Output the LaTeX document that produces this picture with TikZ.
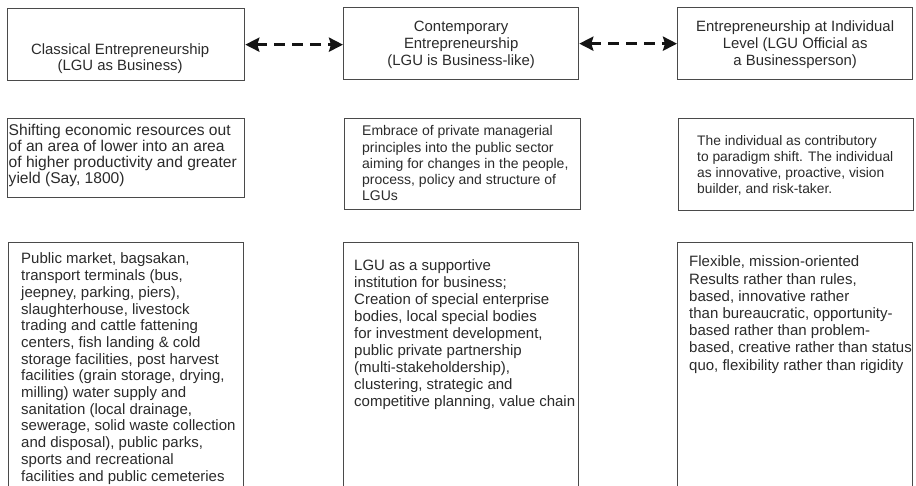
\documentclass[tikz,border=0pt]{standalone}
\usepackage{fontspec}
\setmainfont{Liberation Sans}
\usetikzlibrary{arrows.meta}
\definecolor{txtgray}{HTML}{2B2B2B}
\definecolor{edgegray}{HTML}{4A4A4A}
\newcommand\mlines[1]{\vtop{\lineskiplimit=-\maxdimen\halign{##\hfil\cr#1\crcr}}}
\newcommand\clines[1]{\vtop{\lineskiplimit=-\maxdimen\halign{\hfil##\hfil\cr#1\crcr}}}
\begin{document}
\begin{tikzpicture}[x=1pt,y=-1pt,
  boxnode/.style={draw=edgegray, line width=1.3pt, inner sep=0pt, anchor=north west},
  headtext/.style={anchor=base, inner sep=0pt, text=txtgray},
  bodytext/.style={anchor=base west, inner sep=0pt, text=txtgray},
  dasharrow/.style={draw=black!92, line width=3pt, dash pattern=on 11pt off 7pt,
    {Stealth[length=14pt,width=14pt,inset=2pt]}-{Stealth[length=14pt,width=14pt,inset=2pt]}}
]
\useasboundingbox (0,0) rectangle (916,486);
\clip (0,0) rectangle (916,486);
\fill[white] (0,0) rectangle (916,486);

% top row
\node[boxnode, minimum width=237pt, minimum height=72pt] (h1) at (7,8) {};
\node[headtext, font=\fontsize{14.9}{16}\selectfont] (h1t) at ([shift={(-6,47)}]h1.north)
  {\clines{Classical Entrepreneurship\cr(LGU as Business)}};
\node[boxnode, minimum width=235pt, minimum height=72pt] (h2) at (343,7) {};
\node[headtext, font=\fontsize{14.9}{16.8}\selectfont] (h2t) at ([shift={(0,25)}]h2.north)
  {\clines{Contemporary\cr Entrepreneurship\cr(LGU is Business-like)}};
\node[boxnode, minimum width=235pt, minimum height=72pt] (h3) at (677,7) {};
\node[headtext, font=\fontsize{14.9}{16.8}\selectfont] (h3t) at ([shift={(0,25)}]h3.north)
  {\clines{Entrepreneurship at Individual\cr Level (LGU Official as\cr a Businessperson)}};

\draw[dasharrow] (h1.east) -- (h1.east -| h2.west);
\draw[dasharrow] (h2.east) -- (h2.east -| h3.west);

% middle row
\node[boxnode, minimum width=237pt, minimum height=79pt] (m1) at (7,118) {};
\node[bodytext, font=\fontsize{15.6}{16}\selectfont] (m1t) at ([shift={(1.5,18)}]m1.north west)
  {\mlines{Shifting economic resources out\cr
  of an area of lower into an area\cr
  of higher productivity and greater\cr
  yield (Say, 1800)}};

\node[boxnode, minimum width=236pt, minimum height=91pt] (m2) at (344,118) {};
\node[bodytext, font=\fontsize{14}{16.1}\selectfont] (m2t) at ([shift={(18,18)}]m2.north west)
  {\mlines{Embrace of private managerial\cr
  principles into the public sector\cr
  aiming for changes in the people,\cr
  process, policy and structure of\cr
  LGUs}};

\node[boxnode, minimum width=235pt, minimum height=92pt] (m3) at (678,118) {};
\node[bodytext, font=\fontsize{13.8}{16}\selectfont] (m3t) at ([shift={(19,28)}]m3.north west)
  {\mlines{The individual as contributory\cr
  to paradigm shift. The individual\cr
  as innovative, proactive, vision\cr
  builder, and risk-taker.}};

% bottom row
\node[boxnode, minimum width=235pt, minimum height=260pt] (b1) at (8,242) {};
\node[bodytext, font=\fontsize{15}{16.7}\selectfont] (b1t) at ([shift={(13,22)}]b1.north west)
  {\mlines{Public market, bagsakan,\cr
  transport terminals (bus,\cr
  jeepney, parking, piers),\cr
  slaughterhouse, livestock\cr
  trading and cattle fattening\cr
  centers, fish landing \& cold\cr
  storage facilities, post harvest\cr
  facilities (grain storage, drying,\cr
  milling) water supply and\cr
  sanitation (local drainage,\cr
  sewerage, solid waste collection\cr
  and disposal), public parks,\cr
  sports and recreational\cr
  facilities and public cemeteries}};

\node[boxnode, minimum width=235pt, minimum height=260pt] (b2) at (343,242) {};
\node[bodytext, font=\fontsize{15}{16.9}\selectfont] (b2t) at ([shift={(11,29)}]b2.north west)
  {\mlines{LGU as a supportive\cr
  institution for business;\cr
  Creation of special enterprise\cr
  bodies, local special bodies\cr
  for investment development,\cr
  public private partnership\cr
  (multi-stakeholdership),\cr
  clustering, strategic and\cr
  competitive planning, value chain}};

\node[boxnode, minimum width=235pt, minimum height=260pt] (b3) at (677,242) {};
\node[bodytext, font=\fontsize{15}{17.2}\selectfont] (b3t) at ([shift={(12,25)}]b3.north west)
  {\mlines{Flexible, mission-oriented\cr
  Results rather than rules,\cr
  based, innovative rather\cr
  than bureaucratic, opportunity-\cr
  based rather than problem-\cr
  based, creative rather than status\cr
  quo, flexibility rather than rigidity}};
\end{tikzpicture}
\end{document}
